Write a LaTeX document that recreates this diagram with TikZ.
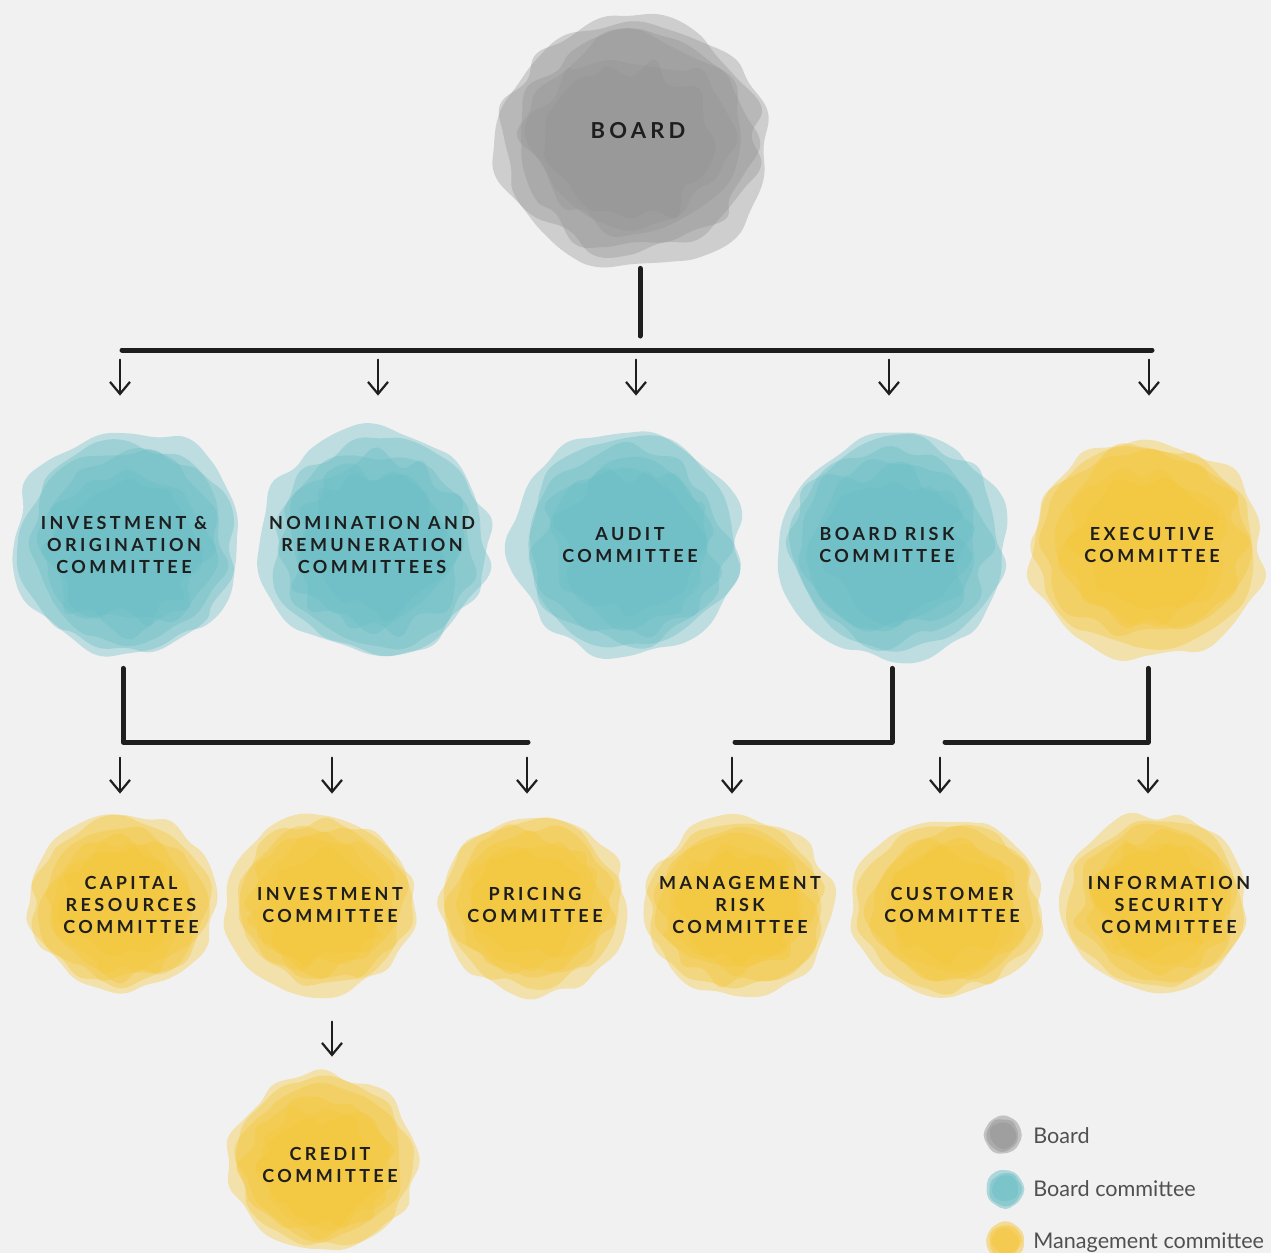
\documentclass[tikz,border=0pt]{standalone}
\usepackage{fontspec}
\setmainfont{Lato}
\newfontfamily\capsfont[LetterSpace=19]{Lato}
\usetikzlibrary{arrows.meta,calc}

\definecolor{paper}{HTML}{F2F1F1}
\definecolor{inkgray}{HTML}{959595}
\definecolor{inkteal}{HTML}{6BBFC6}
\definecolor{inkyellow}{HTML}{F5C73A}
\definecolor{inktext}{HTML}{1E1E1E}
\definecolor{legendtext}{HTML}{505050}

% watercolour blob: #1 x, #2 y, #3 x-radius, #4 y-radius, #5 colour, #6 seed
% six translucent washes, each smaller than the last, build up a dense core
% and a pale irregular rim
\newcommand{\inkblob}[6]{%
  \begin{scope}[shift={(#1,#2)}, xscale=#3/#4]
    \pgfmathsetseed{#6}
    \foreach \f/\a in {0.90/0.12, 0.83/0.13, 0.75/0.15, 0.66/0.17, 0.57/0.19, 0.48/0.2}{
      \pgfmathsetmacro{\blobdx}{(rnd-0.5)*0.10*#4}
      \pgfmathsetmacro{\blobdy}{(rnd-0.5)*0.10*#4}
      \fill[#5, opacity=0.38, shift={(\blobdx,\blobdy)}]
        plot[smooth cycle, tension=0.7, domain=0:345, samples=24, variable=\t]
        (\t:{#4*(\f+\a*rnd)});
    }
  \end{scope}}

% small key dot: #1 x, #2 y, #3 radius, #4 colour, #5 seed
\newcommand{\keydot}[5]{%
  \begin{scope}[shift={(#1,#2)}]
    \pgfmathsetseed{#5}
    \foreach \f in {0.9, 0.75, 0.6}{
      \fill[#4, opacity=0.5]
        plot[smooth cycle, tension=0.7, domain=0:330, samples=12, variable=\t]
        (\t:{#3*(\f+0.12*rnd)});
    }
  \end{scope}}

\tikzset{
  unit/.style={shape=rectangle, inner sep=0pt, align=center, text=inktext,
    font=\capsfont\bfseries\fontsize{9}{11}\selectfont},
  toprow/.style={unit, minimum width=118pt, minimum height=115pt},
  lowrow/.style={unit, minimum width=97pt, minimum height=90pt},
  bus/.style={draw=inktext, line width=2.5pt, line cap=round, line join=round},
  arr/.style={draw=inktext, line width=1.1pt, line cap=round,
    -{Straight Barb[length=6pt, width=10pt, line width=1.1pt]}},
  legend/.style={anchor=base west, inner sep=0pt, text=legendtext,
    font=\fontsize{10.8}{12}\selectfont},
}

\begin{document}
\begin{tikzpicture}[x=0.5pt, y=-0.5pt]
  \useasboundingbox[fill=paper] (0,0) rectangle (1271,1253);

  % ---- blobs ----
  \inkblob{632}{140}{143}{130}{inkgray}{11}
  \inkblob{126}{545}{120}{117}{inkteal}{21}
  \inkblob{375}{545}{120}{117}{inkteal}{22}
  \inkblob{632}{545}{119}{117}{inkteal}{23}
  \inkblob{892}{545}{119}{117}{inkteal}{24}
  \inkblob{1148}{545}{122}{114}{inkyellow}{25}
  \inkblob{122}{905}{98}{92}{inkyellow}{31}
  \inkblob{322}{905}{98}{92}{inkyellow}{32}
  \inkblob{528}{905}{98}{92}{inkyellow}{33}
  \inkblob{738}{905}{98}{92}{inkyellow}{34}
  \inkblob{948}{905}{100}{92}{inkyellow}{35}
  \inkblob{1160}{905}{96}{92}{inkyellow}{36}
  \inkblob{323}{1165}{99}{92}{inkyellow}{41}
  \keydot{1003}{1135}{20}{inkgray}{51}
  \keydot{1005}{1189}{20}{inkteal}{52}
  \keydot{1005}{1241}{20}{inkyellow}{53}

  % ---- units ----
  \node[unit, minimum width=143pt, minimum height=137pt,
        font=\capsfont\bfseries\fontsize{11}{13}\selectfont] (board) at (638,131) {BOARD};

  \node[toprow] (ioc) at (124,545) {INVESTMENT \&\\ORIGINATION\\COMMITTEE};
  \node[toprow] (nrc) at (372,545) {NOMINATION AND\\REMUNERATION\\COMMITTEES};
  \node[toprow] (aud) at (630,545) {AUDIT\\COMMITTEE};
  \node[toprow] (brc) at (887,545) {BOARD RISK\\COMMITTEE};
  \node[toprow] (exe) at (1152,545) {EXECUTIVE\\COMMITTEE};

  \node[lowrow] (cap) at (131,905) {CAPITAL\\RESOURCES\\COMMITTEE};
  \node[lowrow] (inv) at (330,905) {INVESTMENT\\COMMITTEE};
  \node[lowrow] (pric) at (535,905) {PRICING\\COMMITTEE};
  \node[lowrow] (mrc) at (740,905) {MANAGEMENT\\RISK\\COMMITTEE};
  \node[lowrow] (cus) at (952,905) {CUSTOMER\\COMMITTEE};
  \node[lowrow] (isc) at (1169,905) {INFORMATION\\SECURITY\\COMMITTEE};

  \node[lowrow] (cred) at (330,1165) {CREDIT\\COMMITTEE};

  % ---- bus levels ----
  \coordinate (top) at (0,350);
  \coordinate (mid) at (0,742);

  % board to its committees
  \draw[bus] ($(board.south)+(2,0)$) -- ($(board.south |- top)+(2,-14)$);
  \draw[bus] ($(ioc.north |- top)+(-2,0)$) -- (exe.north |- top);
  \foreach \n/\dx in {ioc/-4, nrc/6, aud/6, brc/2, exe/-3}
    \draw[arr] ($(\n.north)+(\dx,-70)$) -- ++(0,36);

  % committees to management committees
  \draw[bus] ($(ioc.south)+(-1,8)$) |- ($(pric.north |- mid)+(-7,0)$);
  \draw[bus] ($(brc.south)+(5,8)$) |- ($(mrc.north |- mid)+(-5,0)$);
  \draw[bus] ($(exe.south)+(-4,8)$) |- ($(cus.north |- mid)+(-7,0)$);
  \foreach \n/\dx in {cap/-11, inv/2, pric/-8, mrc/-8, cus/-12, isc/-21}
    \draw[arr] ($(\n.north)+(\dx,-57)$) -- ++(0,36);

  % investment committee to credit committee
  \draw[arr] ($(cred.north)+(2,-53)$) -- ++(0,35);

  % ---- key ----
  \node[legend] (kb) at (1033,1143) {Board};
  \node[legend] (kc) at (1033,1196) {Board committee};
  \node[legend] (km) at (1033,1248) {Management committee};
\end{tikzpicture}
\end{document}
